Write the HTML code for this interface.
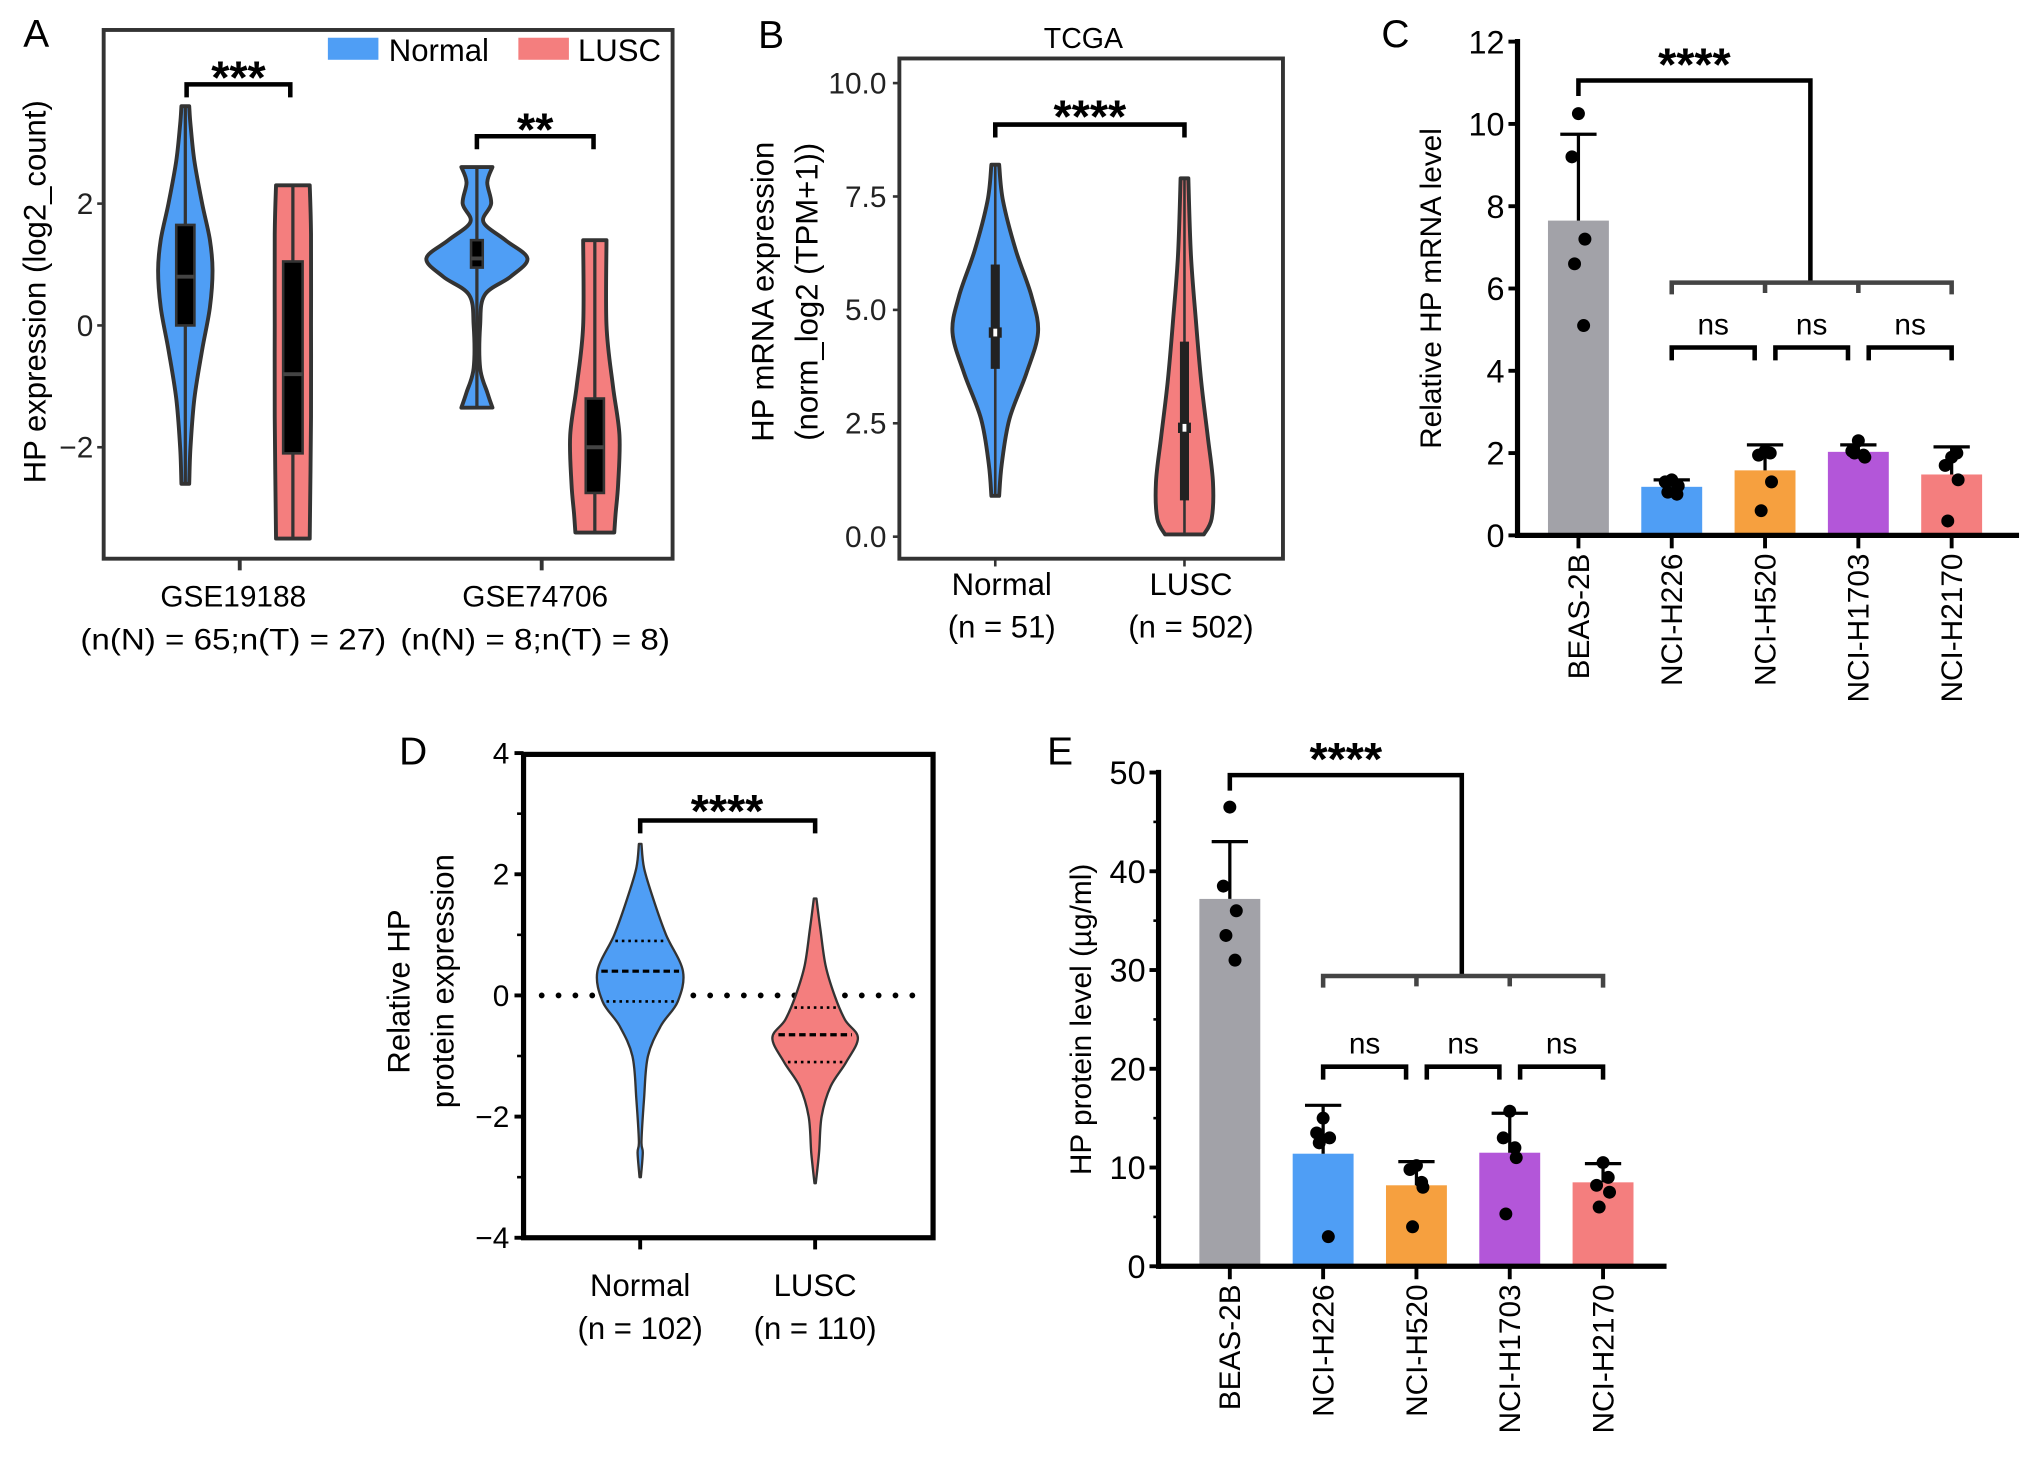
<!DOCTYPE html>
<html><head><meta charset="utf-8"><style>
body{margin:0;background:#fff}
svg{display:block;font-family:"Liberation Sans",sans-serif}
</style></head><body>
<svg id="fig" width="2032" height="1466" viewBox="0 0 1568 1131">
<g id="A"></g>
<g id="B"></g>
<g id="C"></g>
<g id="D"></g>
<g id="E"></g>
</svg>
<script>
const NS='http://www.w3.org/2000/svg';
function mk(p,tag,at,txt){const e=document.createElementNS(NS,tag);for(const k in at)e.setAttribute(k,at[k]);if(txt!==undefined)e.textContent=txt;p.appendChild(e);return e;}
const BLUE='#4f9ef5',PINK='#f47e7e',GRAY='#a2a2a8',ORANGE='#f6a03f',PURPLE='#b356d9',DK='#333';

// ---------- Panel A data ----------
const aGroups=['GSE19188','GSE74706'];
const aGroupN=['(n(N) = 65;n(T) = 27)','(n(N) = 8;n(T) = 8)'];
const aTicks=[2,0,-2];
const aViolinN1=[[3.6,3],[3.3,4],[2.7,7],[2.0,13],[1.4,19],[0.9,21],[0.3,19],[-0.4,13],[-1.2,7],[-2.0,4],[-2.6,3]];
const aViolinT1=[[2.3,13],[1.5,14],[0,14],[-1.5,14],[-3.5,13]];
const aViolinN2=[[2.6,12],[2.35,8],[2.0,11],[1.7,5],[1.4,22],[1.1,39],[0.8,26],[0.5,6],[0,2.5],[-0.7,2.5],[-1.1,8],[-1.35,12]];
const aViolinT2=[[1.4,9],[0,9],[-1,14],[-1.8,19],[-2.6,18],[-3.1,16],[-3.4,15]];
const aBoxes=[[0,1.65,0.8],[-2.1,1.05,-0.8],[0.95,1.4,1.1],[-2.75,-1.2,-2.0]];

// ---------- Panel B data ----------
const bTicks=[0,2.5,5,7.5,10];
const bCats=['Normal','LUSC'];
const bN=['(n = 51)','(n = 502)'];
const bViolinN=[[8.2,3],[7.4,6],[6.3,16],[5.3,28],[4.5,33],[3.6,24],[2.6,11],[1.6,5],[0.9,3]];
const bViolinT=[[7.9,3],[6.2,5],[4.7,9],[3.4,13],[2.2,18],[1.2,22],[0.4,21],[0.05,15]];
const bBoxes=[[3.7,6.0,4.5],[0.8,4.3,2.4]];

// ---------- Panel C data ----------
const cCats=['BEAS-2B','NCI-H226','NCI-H520','NCI-H1703','NCI-H2170'];
const cMeans=[7.65,1.18,1.58,2.03,1.48];
const cErr=[9.75,1.35,2.2,2.2,2.15];
const cPts=[[10.25,9.2,7.2,6.6,5.1],[1.35,1.3,1.2,1.05,1.0],[2.05,1.95,1.3,0.6,2.0],[2.3,2.05,1.9,2.0,1.95],[1.9,1.7,1.35,0.35,2.0]];
const cTicks=[0,2,4,6,8,10,12];

// ---------- Panel D data ----------
const dTicks=[4,2,0,-2,-4];
const dCats=['Normal','LUSC'];
const dN=['(n = 102)','(n = 110)'];
const dViolinN=[[2.5,1],[2.1,3],[1.6,10],[1.0,20],[0.4,33],[-0.1,29],[-0.5,16],[-1.0,6],[-1.7,3],[-2.4,1],[-2.6,2],[-3.0,0.5]];
const dViolinT=[[1.6,1],[1.1,4],[0.5,8],[0,15],[-0.4,23],[-0.7,33],[-1.1,24],[-1.5,12],[-2.0,5],[-2.6,3],[-3.1,0.5]];
const dQuart=[[0.9,0.4,-0.1],[-0.2,-0.65,-1.1]];

// ---------- Panel E data ----------
const eCats=['BEAS-2B','NCI-H226','NCI-H520','NCI-H1703','NCI-H2170'];
const eMeans=[37.2,11.4,8.2,11.5,8.5];
const eErr=[43,16.3,10.6,15.5,10.4];
const ePts=[[46.5,38.5,36,33.5,31],[15,13.5,13,12.5,3],[10.2,9.8,8,4,8.5],[15.7,13,11,5.3,12],[10.5,8.2,7.5,6,9]];
const eTicks=[0,10,20,30,40,50];

function spline(pts){let s='';for(let i=0;i<pts.length-1;i++){const p0=pts[Math.max(0,i-1)],p1=pts[i],p2=pts[i+1],p3=pts[Math.min(pts.length-1,i+2)];
  const c1=[p1[0]+(p2[0]-p0[0])/6,p1[1]+(p2[1]-p0[1])/6],c2=[p2[0]-(p3[0]-p1[0])/6,p2[1]-(p3[1]-p1[1])/6];
  s+=` C${c1[0].toFixed(1)},${c1[1].toFixed(1)} ${c2[0].toFixed(1)},${c2[1].toFixed(1)} ${p2[0].toFixed(1)},${p2[1].toFixed(1)}`;}return s;}
function violin(g,cx,ys,pts,fill,sw){
  const r=pts.map(p=>[cx+p[1],ys(p[0])]),l=pts.map(p=>[cx-p[1],ys(p[0])]).reverse();
  const d='M'+r[0][0]+','+r[0][1]+spline(r)+' L'+l[0][0]+','+l[0][1]+spline(l)+'Z';
  return mk(g,'path',{d:d,fill:fill,stroke:DK,'stroke-width':sw,'stroke-linejoin':'round'});
}
function bracket(g,x1,x2,y,leg,sw,col){mk(g,'path',{d:`M${x1},${y+leg}V${y}H${x2}V${y+leg}`,fill:'none',stroke:col||'#000','stroke-width':sw});}

// ===== A =====
(function(){
  const g=document.getElementById('A');
  const ys=v=>251-47*v;
  mk(g,'text',{x:18,y:36,'font-size':30,},'A');
  mk(g,'rect',{x:80,y:23,width:439,height:408,fill:'none',stroke:DK,'stroke-width':3,});
  aTicks.forEach(t=>{mk(g,'line',{x1:75,x2:80,y1:ys(t),y2:ys(t),stroke:DK,'stroke-width':2});
    const e=mk(g,'text',{x:72,y:ys(t)+8,'text-anchor':'end','font-size':23,fill:'#222'},t<0?'−'+(-t):String(t));});
  const tl=mk(g,'text',{x:0,y:0,transform:'translate(35,225) rotate(-90)','text-anchor':'middle','font-size':24},'HP expression (log2_count)');
  
  const cx=[143,226,368,459],cols=[BLUE,PINK,BLUE,PINK],vs=[aViolinN1,aViolinT1,aViolinN2,aViolinT2],bw=[14,15,9,14];
  vs.forEach((v,i)=>{const p=violin(g,cx[i],ys,v,cols[i],3);
    mk(g,'line',{x1:cx[i],x2:cx[i],y1:ys(v[0][0]),y2:ys(v[v.length-1][0]),stroke:DK,'stroke-width':2.5});
    const b=aBoxes[i];mk(g,'rect',{x:cx[i]-bw[i]/2,y:ys(b[1]),width:bw[i],height:ys(b[0])-ys(b[1]),fill:'#000',stroke:DK,'stroke-width':2});
    mk(g,'line',{x1:cx[i]-bw[i]/2,x2:cx[i]+bw[i]/2,y1:ys(b[2]),y2:ys(b[2]),stroke:'#444','stroke-width':3});});
  [185,418].forEach((x,i)=>{mk(g,'line',{x1:x,x2:x,y1:431,y2:440,stroke:DK,'stroke-width':3});
    const a=mk(g,'text',{x:x-5,y:468,'text-anchor':'middle','font-size':23},aGroups[i]);
    const b=mk(g,'text',{x:x-5,y:501,'text-anchor':'middle','font-size':23,textLength:x==185?236:208,lengthAdjust:'spacingAndGlyphs'},aGroupN[i]);});
  bracket(g,144,224,65,10,3.5);mk(g,'text',{x:184,y:72,'text-anchor':'middle','font-size':36,'font-weight':'bold'},'***');
  bracket(g,368,458,105,10,3.5);mk(g,'text',{x:413,y:112,'text-anchor':'middle','font-size':36,'font-weight':'bold'},'**');
  const lg=mk(g,'g',{});
  mk(lg,'rect',{x:253,y:29,width:39,height:17,fill:BLUE});mk(lg,'text',{x:300,y:47,'font-size':24},'Normal');
  mk(lg,'rect',{x:400,y:29,width:39,height:17,fill:PINK});mk(lg,'text',{x:446,y:47,'font-size':24},'LUSC');
})();

// ===== B =====
(function(){
  const g=document.getElementById('B');
  const ys=v=>414-35*v;
  mk(g,'text',{x:585,y:37,'font-size':30,},'B');
  mk(g,'text',{x:836,y:37,'text-anchor':'middle','font-size':22,},'TCGA');
  mk(g,'rect',{x:694,y:45,width:296,height:386,fill:'none',stroke:DK,'stroke-width':3,});
  bTicks.forEach(t=>{mk(g,'line',{x1:689,x2:694,y1:ys(t),y2:ys(t),stroke:DK,'stroke-width':2});
    const e=mk(g,'text',{x:684,y:ys(t)+8,'text-anchor':'end','font-size':23,fill:'#222'},t.toFixed(1));});
  const t1=mk(g,'text',{x:0,y:0,transform:'translate(597,225) rotate(-90)','text-anchor':'middle','font-size':24},'HP mRNA expression');
  
  const t2=mk(g,'text',{x:0,y:0,transform:'translate(631,225) rotate(-90)','text-anchor':'middle','font-size':24},'(norm_log2 (TPM+1))');
  
  const cx=[768,914],vs=[bViolinN,bViolinT],cols=[BLUE,PINK];
  vs.forEach((v,i)=>{const p=violin(g,cx[i],ys,v,cols[i],3);
    mk(g,'line',{x1:cx[i],x2:cx[i],y1:ys(v[0][0]),y2:ys(v[v.length-1][0]),stroke:DK,'stroke-width':2});
    const b=bBoxes[i];mk(g,'rect',{x:cx[i]-3.5,y:ys(b[1]),width:7,height:ys(b[0])-ys(b[1]),fill:'#222'});
    mk(g,'rect',{x:cx[i]-5,y:ys(b[2])-4,width:10,height:8,fill:'#222'});mk(g,'rect',{x:cx[i]-1.5,y:ys(b[2])-3,width:3,height:6,fill:'#fff'});
    mk(g,'line',{x1:cx[i],x2:cx[i],y1:431,y2:437,stroke:DK,'stroke-width':2});
    const a=mk(g,'text',{x:cx[i]+5,y:459,'text-anchor':'middle','font-size':24},bCats[i]);
    const c=mk(g,'text',{x:cx[i]+5,y:492,'text-anchor':'middle','font-size':24},bN[i]);});
  bracket(g,768,914,96,10,3.5);mk(g,'text',{x:841,y:102,'text-anchor':'middle','font-size':36,'font-weight':'bold'},'****');
})();

function barPanel(g,opt){
  const ys=v=>opt.y0-(opt.y0-opt.yTop)*v/opt.ymax;
  const xs=i=>opt.x0+i*72;
  const bw=47;
  opt.cats.forEach((c,i)=>{
    const b=mk(g,'rect',{x:xs(i)-bw/2,y:ys(opt.means[i]),width:bw,height:opt.y0-ys(opt.means[i]),fill:opt.cols[i]});
    
    mk(g,'path',{d:`M${xs(i)},${ys(opt.means[i])}V${ys(opt.err[i])}M${xs(i)-14},${ys(opt.err[i])}H${xs(i)+14}`,stroke:'#000','stroke-width':2.5,fill:'none'});
    opt.pts[i].forEach((p,j)=>{const off=[0,-5,5,-3,4][j];const d=mk(g,'circle',{cx:xs(i)+off,cy:ys(p),r:5,fill:'#000'});});
    mk(g,'line',{x1:xs(i),x2:xs(i),y1:opt.y0,y2:opt.y0+10,stroke:'#000','stroke-width':3});
    const t=mk(g,'text',{x:0,y:0,transform:`translate(${xs(i)+8},${opt.y0+14}) rotate(-90)`,'text-anchor':'end','font-size':23},c);
    
  });
  mk(g,'line',{x1:opt.xa,x2:opt.xa,y1:opt.yTop-2,y2:opt.y0+2,stroke:'#000','stroke-width':4,});
  mk(g,'line',{x1:opt.xa,x2:opt.xEnd,y1:opt.y0,y2:opt.y0,stroke:'#000','stroke-width':4,});
  opt.ticks.forEach(t=>{mk(g,'line',{x1:opt.xa-7,x2:opt.xa,y1:ys(t),y2:ys(t),stroke:'#000','stroke-width':3});
    const e=mk(g,'text',{x:opt.xa-10,y:ys(t)+9,'text-anchor':'end','font-size':25},String(t));});
  const yt=mk(g,'text',{x:0,y:0,transform:`translate(${opt.titleX},${(opt.y0+opt.yTop)/2}) rotate(-90)`,'text-anchor':'middle','font-size':23},opt.title);
  
  const vx=xs(2)+35;
  mk(g,'path',{d:`M${xs(0)},${opt.bTop+12}V${opt.bTop}H${vx}V${opt.bGrp}`,stroke:'#000','stroke-width':3.5,fill:'none'});
  mk(g,'text',{x:(xs(0)+vx)/2,y:opt.bTop,'text-anchor':'middle','font-size':36,'font-weight':'bold'},'****');
  mk(g,'path',{d:`M${xs(1)},${opt.bGrp+9}V${opt.bGrp}H${xs(4)}V${opt.bGrp+9}M${xs(2)},${opt.bGrp}v8M${xs(3)},${opt.bGrp}v8`,stroke:'#444','stroke-width':3.5,fill:'none'});
  for(let i=1;i<4;i++){const a=xs(i)+(i==1?0:8),b=xs(i+1)-(i==3?0:8);
    bracket(g,a,b,opt.bNs,10,3.5);
    mk(g,'text',{x:(a+b)/2,y:opt.bNs-10,'text-anchor':'middle','font-size':23},'ns');}
}

// ===== C =====
(function(){
  const g=document.getElementById('C');
  mk(g,'text',{x:1066,y:36,'font-size':30,},'C');
  barPanel(g,{cats:cCats,means:cMeans,err:cErr,pts:cPts,ticks:cTicks,ymax:12,y0:413,yTop:32,x0:1218,xa:1171,xEnd:1558,
    cols:[GRAY,BLUE,ORANGE,PURPLE,PINK],title:'Relative HP mRNA level',titleX:1112,bTop:62,bGrp:218,bNs:268});
})();

// ===== D =====
(function(){
  const g=document.getElementById('D');
  const ys=v=>768-46.75*v;
  mk(g,'text',{x:308,y:590,'font-size':30,},'D');
  mk(g,'rect',{x:404,y:582,width:316,height:373,fill:'none',stroke:'#000','stroke-width':4,});
  dTicks.forEach(t=>{mk(g,'line',{x1:397,x2:404,y1:ys(t),y2:ys(t),stroke:'#000','stroke-width':3});
    const e=mk(g,'text',{x:393,y:ys(t)+8,'text-anchor':'end','font-size':23},t<0?'−'+(-t):String(t));});
  [3,1,-1,-3].forEach(t=>mk(g,'line',{x1:399,x2:404,y1:ys(t),y2:ys(t),stroke:'#000','stroke-width':2}));
  const t1=mk(g,'text',{x:0,y:0,transform:'translate(316,765) rotate(-90)','text-anchor':'middle','font-size':24},'Relative HP');
  
  const t2=mk(g,'text',{x:0,y:0,transform:'translate(350,757) rotate(-90)','text-anchor':'middle','font-size':24},'protein expression');
  
  mk(g,'line',{x1:418,x2:715,y1:ys(0),y2:ys(0),stroke:'#000','stroke-width':4.5,'stroke-dasharray':'0 13','stroke-linecap':'round',});
  const cx=[494,629],vs=[dViolinN,dViolinT],cols=[BLUE,PINK];
  vs.forEach((v,i)=>{const p=violin(g,cx[i],ys,v,cols[i],1.8);
    dQuart[i].forEach((q,j)=>{let w=0;for(let k=0;k<v.length-1;k++){if(q<=v[k][0]&&q>=v[k+1][0]){const f=(v[k][0]-q)/(v[k][0]-v[k+1][0]);w=v[k][1]+f*(v[k+1][1]-v[k][1]);}}
      mk(g,'line',{x1:cx[i]-w+3,x2:cx[i]+w-3,y1:ys(q),y2:ys(q),stroke:'#000','stroke-width':j==1?2.5:2,'stroke-dasharray':j==1?'5 3':'2 3'});});
    mk(g,'line',{x1:cx[i],x2:cx[i],y1:955,y2:964,stroke:'#000','stroke-width':3});
    const a=mk(g,'text',{x:cx[i],y:1000,'text-anchor':'middle','font-size':24},dCats[i]);
    const c=mk(g,'text',{x:cx[i],y:1033,'text-anchor':'middle','font-size':24},dN[i]);});
  bracket(g,494,629,633,10,3.5);mk(g,'text',{x:561,y:638,'text-anchor':'middle','font-size':36,'font-weight':'bold'},'****');
})();

// ===== E =====
(function(){
  const g=document.getElementById('E');
  mk(g,'text',{x:808,y:590,'font-size':30,},'E');
  barPanel(g,{cats:eCats,means:eMeans,err:eErr,pts:ePts,ticks:eTicks,ymax:50,y0:977,yTop:596,x0:949,xa:894,xEnd:1286,
    cols:[GRAY,BLUE,ORANGE,PURPLE,PINK],title:'HP protein level (µg/ml)',titleX:842,bTop:598,bGrp:753,bNs:823});
  [5,15,25,35,45].forEach(t=>mk(g,'line',{x1:890,x2:894,y1:977-7.62*t,y2:977-7.62*t,stroke:'#000','stroke-width':2}));
})();
</script>
</body></html>
